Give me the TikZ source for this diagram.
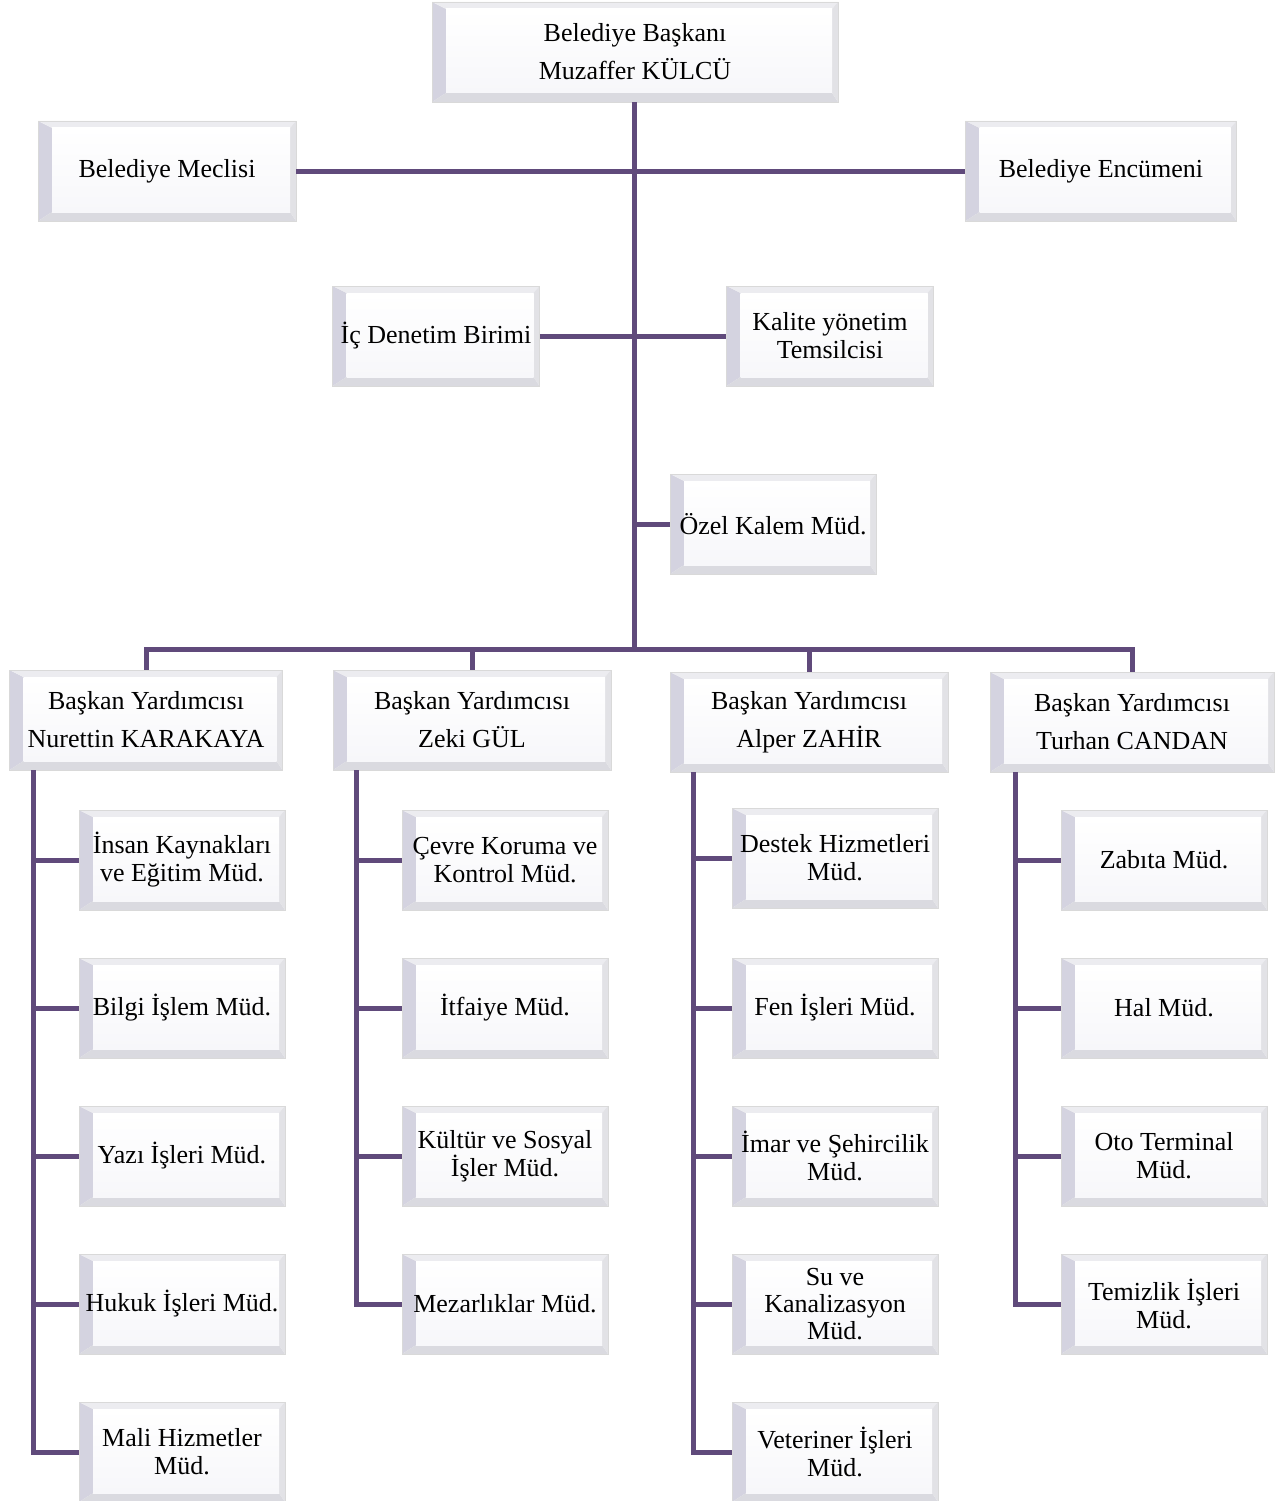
\documentclass[tikz,border=0pt]{standalone}
\usepackage{fontspec}
\setmainfont{Liberation Serif}
\usepackage{xcolor}
\usepackage{tikz}
\definecolor{orgpurple}{HTML}{604A7B}
\definecolor{bevelleft}{RGB}{212,211,224}
\definecolor{bevelbottom}{RGB}{218,218,224}
\definecolor{beveltop}{RGB}{236,236,240}
\definecolor{bevelright}{RGB}{226,226,230}
\definecolor{bevelface}{RGB}{247,247,250}
\tikzstyle{orgbox} = [rectangle, minimum height=100pt, inner sep=2pt, align=center, fill=white, draw=gray!30, line width=0.8pt, font=\fontsize{26}{28}\selectfont,
    path picture={
        \coordinate (ppsw) at (path picture bounding box.south west);
        \coordinate (ppne) at (path picture bounding box.north east);
        \coordinate (ppnw) at (ppsw |- ppne);
        \coordinate (ppse) at (ppne |- ppsw);
        \coordinate (qqsw) at ([shift={(14pt,9pt)}]ppsw);
        \coordinate (qqne) at ([shift={(-6pt,-7pt)}]ppne);
        \coordinate (qqnw) at (qqsw |- qqne);
        \coordinate (qqse) at (qqne |- qqsw);
        \fill[bevelleft] (ppsw) -- (ppnw) -- (qqnw) -- (qqsw) -- cycle;
        \fill[bevelbottom] (ppsw) -- (ppse) -- (qqse) -- (qqsw) -- cycle;
        \fill[beveltop] (ppnw) -- (ppne) -- (qqne) -- (qqnw) -- cycle;
        \fill[bevelright] (ppse) -- (ppne) -- (qqne) -- (qqse) -- cycle;
        \shade[top color=white, bottom color=bevelface] (qqsw) rectangle (qqne);}]
\tikzstyle{headbox} = [orgbox, font=\fontsize{26}{38}\selectfont]
\tikzstyle{orgline} = [draw=orgpurple, line width=5pt]

\begin{document}
\begin{tikzpicture}[x=1pt, y=-1pt]
\useasboundingbox (0,0) rectangle (1280,1501);

% top level
\node [headbox, minimum width=406pt] (baskan) at (635,52) {Belediye Başkanı\\Muzaffer KÜLCÜ};
\node [orgbox, minimum width=258pt] (meclis) at (167,171) {Belediye Meclisi};
\node [orgbox, minimum width=271pt] (encumen) at (1101,171) {Belediye Encümeni};
\node [orgbox, minimum width=207pt] (denetim) at (436,336) {İç Denetim Birimi};
\node [orgbox, minimum width=207pt] (kalite) at (830,336) {Kalite yönetim\\Temsilcisi};
\node [orgbox, minimum width=206pt] (ozel) at (773,524) {Özel Kalem Müd.};

% deputies
\node [headbox, minimum width=273pt] (yard1) at (146,720) {Başkan Yardımcısı\\Nurettin KARAKAYA};
\node [headbox, minimum width=278pt] (yard2) at (472,720) {Başkan Yardımcısı\\Zeki GÜL};
\node [headbox, minimum width=278pt] (yard3) at (809,722) {Başkan Yardımcısı\\Alper ZAHİR};
\node [headbox, minimum width=284pt] (yard4) at (1132,722) {Başkan Yardımcısı\\Turhan CANDAN};

% first column
\node [orgbox, minimum width=206pt] (insan) at (182,860) {İnsan Kaynakları\\ve Eğitim Müd.};
\node [orgbox, minimum width=206pt] (bilgi) at (182,1008) {Bilgi İşlem Müd.};
\node [orgbox, minimum width=206pt] (yazi) at (182,1156) {Yazı İşleri Müd.};
\node [orgbox, minimum width=206pt] (hukuk) at (182,1304) {Hukuk İşleri Müd.};
\node [orgbox, minimum width=206pt] (mali) at (182,1452) {Mali Hizmetler\\Müd.};

% second column
\node [orgbox, minimum width=206pt] (cevre) at (505,860) {Çevre Koruma ve\\Kontrol Müd.};
\node [orgbox, minimum width=206pt] (itfaiye) at (505,1008) {İtfaiye Müd.};
\node [orgbox, minimum width=206pt] (kultur) at (505,1156) {Kültür ve Sosyal\\İşler Müd.};
\node [orgbox, minimum width=206pt] (mezar) at (505,1304) {Mezarlıklar Müd.};

% third column
\node [orgbox, minimum width=206pt] (destek) at (835,858) {Destek Hizmetleri\\Müd.};
\node [orgbox, minimum width=206pt] (fen) at (835,1008) {Fen İşleri Müd.};
\node [orgbox, minimum width=206pt] (imar) at (835,1156) {İmar ve Şehircilik\\Müd.};
\node [orgbox, minimum width=206pt, font=\fontsize{26}{27}\selectfont] (su) at (835,1304) {Su ve\\Kanalizasyon\\Müd.};
\node [orgbox, minimum width=206pt] (veteriner) at (835,1452) {Veteriner İşleri\\Müd.};

% fourth column
\node [orgbox, minimum width=206pt] (zabita) at (1164,860) {Zabıta Müd.};
\node [orgbox, minimum width=206pt] (hal) at (1164,1008) {Hal Müd.};
\node [orgbox, minimum width=206pt] (oto) at (1164,1156) {Oto Terminal\\Müd.};
\node [orgbox, minimum width=206pt] (temizlik) at (1164,1304) {Temizlik İşleri\\Müd.};

% connectors
\coordinate (bus) at (634,649);
\coordinate (t1) at (33,770);
\coordinate (t2) at (356,770);
\coordinate (t3) at (693,772);
\coordinate (t4) at (1015,772);

\draw [orgline] (baskan.south -| bus) -- (bus);
\draw [orgline] (meclis.east) -- (encumen.west);
\draw [orgline] (denetim.east) -- (kalite.west);
\draw [orgline] (ozel.west) -- (ozel.west -| bus);
\draw [orgline] (yard1.north) |- (bus) -| (yard4.north);
\draw [orgline] (yard2.north) -- (yard2.north |- bus);
\draw [orgline] (yard3.north) -- (yard3.north |- bus);

\draw [orgline] (t1) |- (mali.west);
\draw [orgline] (insan.west) -- (insan.west -| t1);
\draw [orgline] (bilgi.west) -- (bilgi.west -| t1);
\draw [orgline] (yazi.west) -- (yazi.west -| t1);
\draw [orgline] (hukuk.west) -- (hukuk.west -| t1);

\draw [orgline] (t2) |- (mezar.west);
\draw [orgline] (cevre.west) -- (cevre.west -| t2);
\draw [orgline] (itfaiye.west) -- (itfaiye.west -| t2);
\draw [orgline] (kultur.west) -- (kultur.west -| t2);

\draw [orgline] (t3) |- (veteriner.west);
\draw [orgline] (destek.west) -- (destek.west -| t3);
\draw [orgline] (fen.west) -- (fen.west -| t3);
\draw [orgline] (imar.west) -- (imar.west -| t3);
\draw [orgline] (su.west) -- (su.west -| t3);

\draw [orgline] (t4) |- (temizlik.west);
\draw [orgline] (zabita.west) -- (zabita.west -| t4);
\draw [orgline] (hal.west) -- (hal.west -| t4);
\draw [orgline] (oto.west) -- (oto.west -| t4);
\end{tikzpicture}
\end{document}
